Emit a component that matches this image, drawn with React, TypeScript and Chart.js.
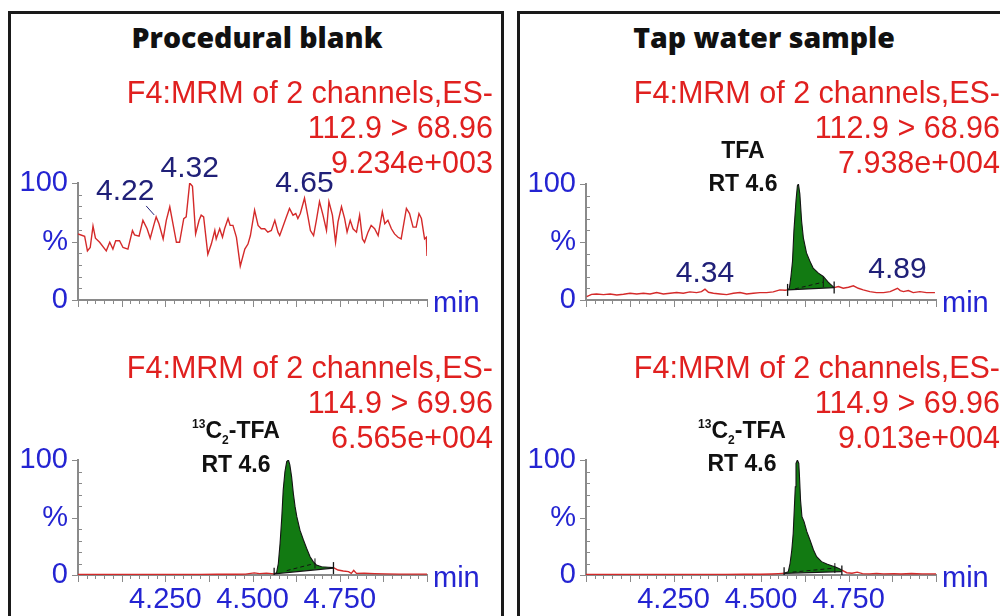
import React, { useEffect, useRef } from "react";
import { Chart, registerables } from "chart.js";

Chart.register(...registerables);

// ---------------- Data (retention time in min, signal in % of max) ----------------
// Procedural blank, TFA channel 112.9 > 68.96 (noise only)
const blankTfaTime = [
  4.000, 4.019, 4.027, 4.035, 4.043, 4.050, 4.062, 4.081, 4.091, 4.100,
  4.108, 4.119, 4.129, 4.143, 4.156, 4.162, 4.175, 4.186, 4.198, 4.207,
  4.217, 4.224, 4.232, 4.244, 4.253, 4.263, 4.272, 4.282, 4.291, 4.303,
  4.310, 4.320, 4.328, 4.337, 4.347, 4.353, 4.360, 4.372, 4.382, 4.392,
  4.396, 4.406, 4.414, 4.420, 4.430, 4.436, 4.444, 4.454, 4.465, 4.478,
  4.487, 4.494, 4.506, 4.516, 4.525, 4.535, 4.544, 4.554, 4.564, 4.573,
  4.578, 4.585, 4.597, 4.606, 4.616, 4.624, 4.630, 4.637, 4.649, 4.659,
  4.666, 4.675, 4.683, 4.692, 4.702, 4.712, 4.719, 4.729, 4.738, 4.745,
  4.755, 4.764, 4.771, 4.780, 4.788, 4.798, 4.807, 4.815, 4.821, 4.831,
  4.840, 4.850, 4.860, 4.872, 4.879, 4.888, 4.898, 4.907, 4.917, 4.926,
  4.941, 4.950, 4.960, 4.969, 4.977, 4.984, 4.993, 4.998, 5.000,
];
const blankTfaSignal = [
  56.5, 54.5, 42.0, 44.9, 63.2, 52.8, 49.3, 42.0, 49.3, 43.5,
  50.7, 50.7, 44.9, 43.5, 59.4, 55.7, 54.5, 68.1, 60.9, 52.8,
  63.8, 71.0, 65.2, 52.2, 68.1, 79.7, 65.2, 49.3, 49.3, 69.6,
  71.0, 100, 97.1, 56.5, 68.1, 72.5, 71.0, 39.1, 47.8, 59.4,
  52.2, 60.9, 53.6, 60.9, 69.6, 63.8, 63.8, 53.6, 29.0, 43.5,
  47.8, 55.1, 76.8, 63.8, 60.9, 60.9, 58.0, 59.4, 68.1, 58.0,
  55.1, 60.9, 71.0, 78.3, 72.5, 73.9, 69.6, 73.9, 87.0, 71.0,
  59.4, 55.1, 68.1, 84.1, 72.5, 59.4, 84.1, 72.5, 49.3, 66.7,
  79.7, 69.6, 58.0, 68.1, 60.9, 58.0, 72.5, 52.2, 49.3, 58.0,
  63.8, 60.9, 55.1, 75.4, 65.2, 68.1, 60.9, 56.5, 53.6, 52.2,
  78.3, 73.9, 62.3, 62.3, 73.9, 69.6, 52.2, 53.6, 37.7,
];
const blankTfaLabelTimes = [4.22, 4.32, 4.65];

// Tap water sample, TFA channel 112.9 > 68.96
const tapTfaTime = [
  4.002, 4.016, 4.030, 4.050, 4.069, 4.088, 4.107, 4.126, 4.145, 4.164,
  4.183, 4.202, 4.221, 4.240, 4.259, 4.278, 4.297, 4.316, 4.330, 4.340,
  4.350, 4.364, 4.383, 4.402, 4.421, 4.440, 4.459, 4.478, 4.497, 4.516,
  4.535, 4.554, 4.569,
  4.576, 4.581, 4.585, 4.590, 4.594, 4.600, 4.604, 4.607, 4.611, 4.616,
  4.621, 4.630, 4.640, 4.649, 4.664, 4.678, 4.692, 4.709,
  4.721, 4.735, 4.750, 4.764, 4.778, 4.792, 4.811, 4.830, 4.850, 4.869,
  4.890, 4.898, 4.907, 4.921, 4.935, 4.954, 4.973, 4.997,
];
const tapTfaSignal = [
  2.9, 4.9, 5.2, 4.6, 5.2, 4.3, 4.9, 5.8, 5.2, 5.8,
  5.2, 6.4, 5.2, 5.8, 6.4, 5.8, 7.0, 6.4, 7.2, 9.3,
  6.7, 5.8, 5.2, 4.6, 5.8, 6.4, 5.2, 5.8, 6.4, 6.4,
  7.0, 8.7, 8.4,
  8.7, 10.1, 18.8, 33.3, 59.4, 85.5, 98.6, 100, 91.3, 68.1,
  53.6, 40.6, 33.3, 27.5, 23.2, 20.3, 15.4, 10.7,
  11.6, 10.1, 11.0, 12.2, 10.1, 8.7, 7.2, 6.4, 6.4, 7.2,
  10.1, 8.1, 7.2, 8.1, 6.4, 7.2, 6.4, 6.4,
];
const tapTfaLabelTimes = [4.34, 4.89];
const tapTfaPeakBounds = [4.576, 4.709];
const tapTfaBaseLevels = [8.7, 10.7];
const tapTfaDropTime = [4.597, 4.678];
const tapTfaDropSignal = [9.6, 15.4];

// Procedural blank, 13C2-TFA channel 114.9 > 69.96
const blankIsTime = [
  4.000, 4.050, 4.100, 4.150, 4.200, 4.250, 4.300, 4.350, 4.400, 4.450,
  4.480, 4.505, 4.520, 4.540, 4.555,
  4.562, 4.569, 4.574, 4.579, 4.584, 4.588, 4.593, 4.598, 4.603, 4.607,
  4.612, 4.617, 4.622, 4.627, 4.636, 4.646, 4.655, 4.665, 4.674, 4.683,
  4.698, 4.717, 4.732,
  4.745, 4.760, 4.775, 4.783, 4.790, 4.798, 4.820, 4.850, 4.880, 4.920,
  4.960, 5.000,
];
const blankIsSignal = [
  0.5, 0.4, 0.5, 0.4, 0.4, 0.5, 0.5, 0.4, 0.6, 0.6,
  0.8, 1.8, 1.2, 1.6, 1.2,
  1.0, 2.0, 10.0, 27.5, 50.7, 74.0, 90.0, 98.6, 100, 95.7,
  85.5, 71.0, 59.4, 50.7, 39.0, 30.4, 23.2, 15.9, 11.6, 8.7,
  7.2, 6.7, 6.4,
  4.3, 3.5, 2.9, 1.4, 4.0, 1.4, 1.5, 1.2, 1.0, 0.8,
  0.8, 0.8,
];
const blankIsPeakBounds = [4.562, 4.732];
const blankIsBaseLevels = [1.0, 6.0];
const blankIsDropTime = [4.598, 4.679];
const blankIsDropSignal = [3.8, 10.1];

// Tap water sample, 13C2-TFA channel 114.9 > 69.96
const tapIsTime = [
  4.000, 4.050, 4.100, 4.150, 4.200, 4.250, 4.300, 4.350, 4.400, 4.450,
  4.500, 4.530, 4.550, 4.560,
  4.566, 4.578, 4.583, 4.588, 4.592, 4.595, 4.598, 4.600, 4.604, 4.608,
  4.610, 4.613, 4.617, 4.623, 4.631, 4.640, 4.650, 4.659, 4.673, 4.688,
  4.702, 4.711, 4.721, 4.731,
  4.745, 4.760, 4.775, 4.790, 4.810, 4.830, 4.850, 4.880, 4.900, 4.930,
  4.960, 5.000,
];
const tapIsSignal = [
  0.4, 0.4, 0.5, 0.4, 0.5, 0.4, 0.5, 0.5, 0.5, 0.6,
  0.6, 0.9, 1.2, 1.4,
  1.5, 2.9, 10.0, 21.7, 36.0, 56.5, 76.8, 97.0, 100, 97.0,
  85.5, 65.0, 50.7, 46.4, 37.7, 30.4, 21.7, 15.9, 11.6, 9.6,
  8.1, 7.2, 5.8, 4.3,
  2.0, 1.5, 2.5, 1.2, 1.0, 1.4, 1.0, 1.2, 0.9, 1.3,
  1.0, 1.0,
];
const tapIsPeakBounds = [4.566, 4.731];
const tapIsBaseLevels = [1.5, 3.0];
const tapIsDropTime = [4.590, 4.711];
const tapIsDropSignal = [2.5, 6.0];

// Header texts
const blankTfaHeader = ["F4:MRM of 2 channels,ES-", "112.9 > 68.96", "9.234e+003"];
const tapTfaHeader = ["F4:MRM of 2 channels,ES-", "112.9 > 68.96", "7.938e+004"];
const blankIsHeader = ["F4:MRM of 2 channels,ES-", "114.9 > 69.96", "6.565e+004"];
const tapIsHeader = ["F4:MRM of 2 channels,ES-", "114.9 > 69.96", "9.013e+004"];

// ---------------- Styles ----------------
const FONT = '"Liberation Sans", Arial, Helvetica, sans-serif';
const RED_TRACE = "#d42a2a";
const RED_TEXT = "#e0201f";
const NAVY = "#202078";
const BLUE = "#2424d2";
const AXIS = "#8a8a8a";
const GREEN = "#127a12";
const OUTLINE = "#141414";

const AXIS_W = 68;
const PAD_TOP = 50;
const X_AXIS_H = 45;
const CANVAS_W = 490;

type LabelStyle = { dx: number; dy: number; leader?: boolean };

interface PeakDef {
  bounds: number[];
  baseLevels: number[];
  dropTime: number[];
  dropSignal: number[];
}

interface ChromProps {
  time: number[];
  signal: number[];
  peak?: PeakDef;
  labelTimes: number[];
  labelStyles: LabelStyle[];
  showXLabels: boolean;
  left: number;
  top: number;
  plotW: number;
  plotH: number;
}

const isMult = (v: number, step: number) => Math.abs(v / step - Math.round(v / step)) < 1e-6;

function ChromChart(p: ChromProps) {
  const ref = useRef<HTMLCanvasElement>(null);
  const h = PAD_TOP + p.plotH + X_AXIS_H;

  useEffect(() => {
    const pts = p.time.map((t, i) => ({ x: t, y: p.signal[i] }));
    const inPeak = (x: number) =>
      !!p.peak && x >= p.peak.bounds[0] - 1e-9 && x <= p.peak.bounds[1] + 1e-9;
    const datasets: any[] = [];
    if (p.peak) {
      const pk = p.peak;
      datasets.push({
        data: pts.filter((q) => inPeak(q.x)),
        borderColor: OUTLINE,
        borderWidth: 1.1,
        backgroundColor: GREEN,
        fill: 1,
        pointRadius: 0,
        order: 0,
      });
      datasets.push({
        data: pk.bounds.map((t, i) => ({ x: t, y: pk.baseLevels[i] })),
        borderColor: OUTLINE,
        borderWidth: 1.3,
        fill: false,
        pointStyle: "line",
        rotation: 90,
        pointRadius: 6,
        pointBorderColor: OUTLINE,
        pointBorderWidth: 1.3,
        order: -1,
      });
      datasets.push({
        data: pk.dropTime.map((t, i) => ({ x: t, y: pk.dropSignal[i] })),
        borderColor: OUTLINE,
        borderWidth: 1,
        borderDash: [4, 3],
        fill: false,
        pointStyle: "line",
        rotation: 90,
        pointRadius: [0, 5],
        pointBorderColor: OUTLINE,
        pointBorderWidth: 1,
        order: -1,
      });
    }
    datasets.push({
      data: pts,
      borderColor: RED_TRACE,
      borderWidth: 1.4,
      pointRadius: 0,
      fill: false,
      order: 1,
      segment: {
        borderColor: (c: any) =>
          inPeak(c.p0.parsed.x) && inPeak(c.p1.parsed.x) ? "rgba(0,0,0,0)" : RED_TRACE,
      },
    });

    const decor = {
      id: "chromDecor",
      afterDraw(chart: any) {
        const { ctx, chartArea: a } = chart;
        const xs = chart.scales.x;
        const ys = chart.scales.y;
        ctx.save();
        ctx.strokeStyle = AXIS;
        ctx.lineWidth = 1;
        ctx.beginPath();
        for (const tk of xs.ticks) {
          const px = Math.round(xs.getPixelForValue(tk.value)) + 0.5;
          const major = isMult(tk.value, 0.125);
          ctx.moveTo(px, a.bottom);
          ctx.lineTo(px, a.bottom + (major ? 7 : 4));
        }
        for (const tk of ys.ticks) {
          const py = Math.round(ys.getPixelForValue(tk.value)) + 0.5;
          if (isMult(tk.value, 50)) {
            ctx.moveTo(a.left - 6, py);
            ctx.lineTo(a.left, py);
          } else {
            ctx.moveTo(a.left, py);
            ctx.lineTo(a.left + 4, py);
          }
        }
        ctx.stroke();

        ctx.fillStyle = BLUE;
        ctx.font = `29px ${FONT}`;
        ctx.textAlign = "left";
        ctx.textBaseline = "alphabetic";
        ctx.fillText("min", a.right + 6, a.bottom + 12);

        ctx.fillStyle = NAVY;
        ctx.strokeStyle = NAVY;
        ctx.font = `30px ${FONT}`;
        ctx.textAlign = "center";
        p.labelTimes.forEach((lt, i) => {
          let best = -1;
          for (let k = 0; k < p.time.length; k++) {
            if (Math.abs(p.time[k] - lt) <= 0.008 && (best < 0 || p.signal[k] > p.signal[best])) best = k;
          }
          if (best < 0) return;
          const px = xs.getPixelForValue(p.time[best]);
          const py = ys.getPixelForValue(p.signal[best]);
          const st = p.labelStyles[i];
          ctx.fillText(lt.toFixed(2), px + st.dx, py + st.dy);
          if (st.leader) {
            ctx.beginPath();
            ctx.lineWidth = 1;
            ctx.moveTo(px - 10, py - 11);
            ctx.lineTo(px - 2, py - 2);
            ctx.stroke();
          }
        });
        ctx.restore();
      },
    };

    const chart = new Chart(ref.current as HTMLCanvasElement, {
      type: "line",
      data: { datasets },
      options: {
        animation: false,
        responsive: false,
        events: [],
        layout: { padding: { left: 0, top: PAD_TOP, right: CANVAS_W - AXIS_W - p.plotW, bottom: 0 } },
        plugins: { legend: { display: false }, tooltip: { enabled: false } },
        scales: {
          x: {
            type: "linear",
            min: 4,
            max: 5,
            border: { display: true, color: AXIS, width: 2 },
            grid: { display: false, drawTicks: false },
            ticks: {
              stepSize: 0.025,
              autoSkip: false,
              maxRotation: 0,
              minRotation: 0,
              padding: 8,
              color: BLUE,
              font: { family: FONT, size: 29 },
              callback: (v: any) =>
                p.showXLabels && isMult(Number(v), 0.25) && v > 4.01 && v < 4.99
                  ? Number(v).toFixed(3)
                  : "",
            },
            afterFit: (s: any) => {
              s.height = X_AXIS_H;
            },
          },
          y: {
            min: 0,
            max: 100,
            border: { display: true, color: AXIS, width: 2 },
            grid: { display: false, drawTicks: false },
            ticks: {
              stepSize: 10,
              autoSkip: false,
              padding: 10,
              color: BLUE,
              font: { family: FONT, size: 29 },
              callback: (v: any) => (v === 100 ? "100" : v === 50 ? "%" : v === 0 ? "0" : ""),
            },
            afterFit: (s: any) => {
              s.width = AXIS_W;
            },
          },
        } as any,
      },
      plugins: [decor],
    });
    return () => chart.destroy();
  }, []);

  return (
    <canvas
      ref={ref}
      width={CANVAS_W}
      height={h}
      style={{ position: "absolute", left: p.left - AXIS_W, top: p.top - PAD_TOP, width: CANVAS_W, height: h }}
    />
  );
}

function Header({ right, top, lines }: { right: number; top: number; lines: string[] }) {
  return (
    <div
      style={{
        position: "absolute",
        left: right - 480,
        width: 480,
        top,
        textAlign: "right",
        color: RED_TEXT,
        fontFamily: FONT,
        fontSize: 30.5,
        lineHeight: "35px",
        whiteSpace: "pre",
      }}
    >
      {lines.map((l, i) => (
        <div key={i}>{l}</div>
      ))}
    </div>
  );
}

function BoldNote({ cx, top, children }: { cx: number; top: number; children: React.ReactNode }) {
  return (
    <div
      style={{
        position: "absolute",
        left: cx - 80,
        width: 160,
        top,
        textAlign: "center",
        fontFamily: FONT,
        fontWeight: "bold",
        fontSize: 23,
        lineHeight: "28px",
        color: "#111",
        whiteSpace: "nowrap",
      }}
    >
      {children}
    </div>
  );
}

function IsLabel() {
  return (
    <>
      <span style={{ fontSize: 12, position: "relative", top: -10, lineHeight: "1" }}>13</span>C
      <span style={{ fontSize: 12, position: "relative", top: 6, lineHeight: "1" }}>2</span>-TFA
    </>
  );
}

function Title({ cx, text }: { cx: number; text: string }) {
  return (
    <div
      style={{
        position: "absolute",
        left: cx - 200,
        width: 400,
        top: 18,
        textAlign: "center",
        fontFamily: "'Open Sans', Lato, sans-serif",
        fontWeight: 800,
        fontSize: 28.5,
        lineHeight: "38px",
        color: "#111",
      }}
    >
      {text}
    </div>
  );
}

export default function App() {
  return (
    <div
      style={{
        position: "absolute",
        left: 0,
        top: 0,
        width: 1000,
        height: 616,
        overflow: "hidden",
        background: "#fff",
      }}
    >
      <div
        style={{
          position: "absolute",
          left: 8,
          top: 11,
          width: 496,
          height: 700,
          border: "3px solid #1a1a1a",
          boxSizing: "border-box",
        }}
      />
      <div
        style={{
          position: "absolute",
          left: 517,
          top: 11,
          width: 600,
          height: 700,
          border: "3px solid #1a1a1a",
          boxSizing: "border-box",
        }}
      />

      <ChromChart
        time={blankTfaTime}
        signal={blankTfaSignal}
        labelTimes={blankTfaLabelTimes}
        labelStyles={[
          { dx: -31, dy: -17, leader: true },
          { dx: 0, dy: -6 },
          { dx: 0, dy: -6 },
        ]}
        showXLabels={false}
        left={78}
        top={183}
        plotW={349}
        plotH={117}
      />
      <ChromChart
        time={tapTfaTime}
        signal={tapTfaSignal}
        peak={{ bounds: tapTfaPeakBounds, baseLevels: tapTfaBaseLevels, dropTime: tapTfaDropTime, dropSignal: tapTfaDropSignal }}
        labelTimes={tapTfaLabelTimes}
        labelStyles={[
          { dx: 0, dy: -7 },
          { dx: 0, dy: -10 },
        ]}
        showXLabels={false}
        left={586}
        top={184}
        plotW={350}
        plotH={116}
      />
      <ChromChart
        time={blankIsTime}
        signal={blankIsSignal}
        peak={{ bounds: blankIsPeakBounds, baseLevels: blankIsBaseLevels, dropTime: blankIsDropTime, dropSignal: blankIsDropSignal }}
        labelTimes={[]}
        labelStyles={[]}
        showXLabels={true}
        left={78}
        top={460}
        plotW={349}
        plotH={115}
      />
      <ChromChart
        time={tapIsTime}
        signal={tapIsSignal}
        peak={{ bounds: tapIsPeakBounds, baseLevels: tapIsBaseLevels, dropTime: tapIsDropTime, dropSignal: tapIsDropSignal }}
        labelTimes={[]}
        labelStyles={[]}
        showXLabels={true}
        left={586}
        top={460}
        plotW={350}
        plotH={115}
      />

      <Title cx={257} text="Procedural blank" />
      <Title cx={764} text="Tap water sample" />

      <Header right={493} top={75} lines={blankTfaHeader} />
      <Header right={1000} top={75} lines={tapTfaHeader} />
      <Header right={493} top={350} lines={blankIsHeader} />
      <Header right={1000} top={350} lines={tapIsHeader} />

      <BoldNote cx={743} top={135.6}>TFA</BoldNote>
      <BoldNote cx={743} top={168.6}>RT 4.6</BoldNote>
      <BoldNote cx={236} top={415.6}>
        <IsLabel />
      </BoldNote>
      <BoldNote cx={236} top={450}>RT 4.6</BoldNote>
      <BoldNote cx={742} top={415.6}>
        <IsLabel />
      </BoldNote>
      <BoldNote cx={742} top={449}>RT 4.6</BoldNote>
    </div>
  );
}
